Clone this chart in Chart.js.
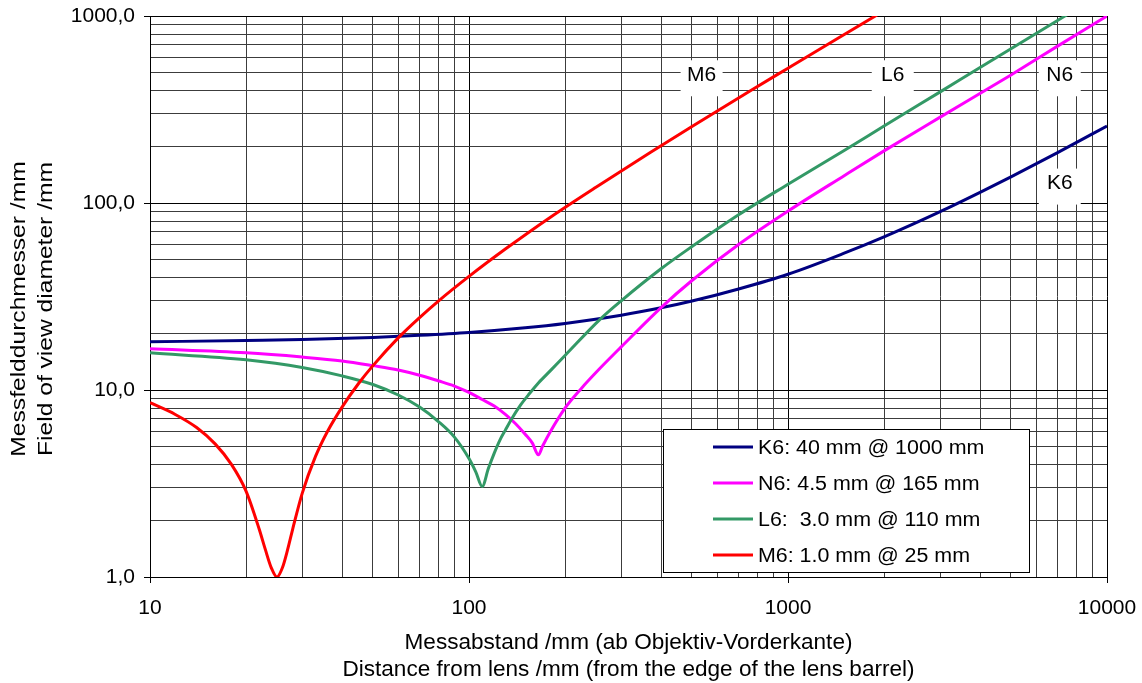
<!DOCTYPE html>
<html>
<head>
<meta charset="utf-8">
<script src="https://cdn.jsdelivr.net/npm/chart.js@4.4.1/dist/chart.umd.min.js"></script>
<style>
  html, body { margin: 0; padding: 0; background: #fff; }
  canvas { display: block; }
</style>
</head>
<body>
<canvas id="fovChart" width="1142" height="683"></canvas>
<script>
// Messabstand (mm) -> Messfelddurchmesser (mm)
const k6X = [10, 20, 30, 50, 70, 100, 150, 200, 300, 400, 500, 700, 1000, 1500, 2000, 3000, 4000, 5000, 7000, 10000];
const k6Y = [18.1, 18.4, 18.6, 19.1, 19.6, 20.3, 21.5, 22.7, 25.1, 27.5, 29.9, 34.7, 41.6, 53.9, 65.9, 89.9, 114, 138, 186, 258];

const n6X = [10, 20, 30, 40, 50, 60, 70, 80, 90, 100, 110, 120, 130, 140, 150, 158, 165, 170, 180, 200, 225, 250, 300, 400, 500, 700, 1000, 1500, 2000, 3000, 5000, 7000, 10000];
const n6Y = [16.6, 15.8, 15.0, 14.3, 13.5, 12.8, 12.0, 11.2, 10.5, 9.7, 8.9, 8.2, 7.4, 6.6, 5.8, 5.2, 4.5, 5.0, 6.0, 8.0, 10.2, 12.4, 17.0, 27.6, 38.5, 60, 90.5, 140, 190, 288, 484, 690, 1000];

const l6X = [10, 20, 30, 40, 50, 60, 70, 80, 90, 100, 105, 110, 115, 120, 125, 130, 136, 145, 155, 165, 180, 200, 257, 300, 400, 500, 700, 1000, 1500, 2000, 3000, 4000, 5000, 7400, 8000];
const l6Y = [15.8, 14.5, 13.2, 11.9, 10.7, 9.4, 8.1, 6.8, 5.6, 4.3, 3.65, 3.05, 3.8, 4.6, 5.4, 6.1, 7.0, 8.3, 9.6, 10.9, 12.7, 15.3, 23.8, 30.0, 44.5, 58.5, 86.5, 126, 191, 258, 393, 530, 668, 1002, 1086];

const m6X = [10, 12, 14, 16, 18, 20, 22, 23, 24, 25, 26, 27, 28, 30, 33, 36, 40, 45, 50, 60, 70, 80, 100, 130, 180, 250, 370, 500, 760, 1000, 1400, 1900, 2100];
const m6Y = [8.55, 7.4, 6.3, 5.15, 4.0, 2.88, 1.8, 1.4, 1.12, 1.0, 1.12, 1.4, 1.8, 2.8, 4.4, 6.0, 8.1, 10.8, 13.5, 19.0, 24.4, 29.8, 40.5, 56.7, 84, 121.5, 186, 256.5, 397, 526, 742, 1012, 1120];

const seriesNames = ['K6: 40 mm @ 1000 mm', 'N6: 4.5 mm @ 165 mm', 'L6:  3.0 mm @ 110 mm', 'M6: 1.0 mm @ 25 mm'];
const seriesColors = ['#000080', '#ff00ff', '#339966', '#ff0000'];

// Achsen
const xTickValues = [10, 100, 1000, 10000];
const xTickLabels = ['10', '100', '1000', '10000'];
const yTickValues = [1, 10, 100, 1000];
const yTickLabels = ['1,0', '10,0', '100,0', '1000,0'];
const gridSteps = [1, 2, 3, 4, 5, 6, 7, 8, 9];

const xTitleLines = ['Messabstand /mm (ab Objektiv-Vorderkante)', 'Distance from lens /mm (from the edge of the lens barrel)'];
const yTitleLines = ['Messfelddurchmesser /mm', 'Field of view diameter /mm'];

// Beschriftung der Kurven im Diagramm
const tagNames = ['M6', 'L6', 'N6', 'K6'];
const tagX = [536, 2130, 7110, 7110];
const tagY = [482, 482, 482, 127];

const fontFamily = "'Liberation Sans', Arial, sans-serif";

// Gitterlinien 1..9 pro Dekade
function gridValues(decades) {
    const vals = [];
    decades.slice(0, -1).forEach(d => gridSteps.forEach(s => vals.push(d * s)));
    vals.push(decades[decades.length - 1]);
    return vals;
}

const toPoints = (xs, ys) => xs.map((x, i) => ({ x: x, y: ys[i] }));

// Text gestreckt zeichnen (Excel-Optik)
function stretchText(ctx, text, x, y, sx) {
    ctx.save();
    ctx.translate(x, y);
    ctx.scale(sx, 1);
    ctx.fillText(text, 0, 0);
    ctx.restore();
}

const overlayPlugin = {
    id: 'overlay',
    afterDraw(chart) {
        const { ctx, chartArea: area, scales: { x, y } } = chart;
        ctx.save();

        // Kurvennamen mit weissem Hintergrund
        ctx.font = '21px ' + fontFamily;
        ctx.textAlign = 'center';
        ctx.textBaseline = 'middle';
        tagNames.forEach((name, i) => {
            const px = x.getPixelForValue(tagX[i]);
            const py = y.getPixelForValue(tagY[i]);
            ctx.fillStyle = '#fff';
            ctx.fillRect(px - 21, py - 15, 42, 36);
            ctx.fillStyle = '#000';
            ctx.fillText(name, px, py);
        });

        // Legende
        const lgLeft = 663, lgTop = 429, lgW = 367, lgH = 144;
        ctx.fillStyle = '#fff';
        ctx.fillRect(lgLeft, lgTop, lgW, lgH);
        ctx.strokeStyle = '#000';
        ctx.lineWidth = 1;
        ctx.strokeRect(lgLeft + 0.5, lgTop + 0.5, lgW - 1, lgH - 1);
        ctx.font = '20px ' + fontFamily;
        ctx.textAlign = 'left';
        ctx.textBaseline = 'middle';
        seriesNames.forEach((name, i) => {
            const rowY = lgTop + 19 + i * 36;
            ctx.strokeStyle = seriesColors[i];
            ctx.lineWidth = 3;
            ctx.beginPath();
            ctx.moveTo(lgLeft + 50, rowY - 1);
            ctx.lineTo(lgLeft + 90, rowY - 1);
            ctx.stroke();
            ctx.fillStyle = '#000';
            stretchText(ctx, name, lgLeft + 95, rowY, 1.07);
        });

        // Achsentitel
        ctx.fillStyle = '#000';
        ctx.textAlign = 'center';
        ctx.textBaseline = 'alphabetic';
        ctx.font = '21.5px ' + fontFamily;
        const cx = (area.left + area.right) / 2;
        xTitleLines.forEach((line, i) => stretchText(ctx, line, cx, 649 + i * 27, 1.05));

        ctx.font = '20px ' + fontFamily;
        yTitleLines.forEach((line, i) => {
            ctx.save();
            ctx.translate(25 + i * 26.5, 309);
            ctx.rotate(-Math.PI / 2);
            ctx.scale(1.23, 1);
            ctx.fillText(line, 0, 0);
            ctx.restore();
        });
        ctx.restore();
    }
};

function axisOptions(decades, fitFn) {
    const grid = gridValues(decades);
    return {
        type: 'logarithmic',
        min: decades[0],
        max: decades[decades.length - 1],
        afterBuildTicks: scale => {
            scale.ticks = grid.map(v => ({ value: v, major: decades.includes(v) }));
        },
        afterFit: fitFn,
        grid: {
            color: c => decades.includes(c.tick.value) ? '#000' : '#3c3c3c',
            lineWidth: 1,
            drawTicks: true,
            tickLength: 6,
            tickColor: c => decades.includes(c.tick.value) ? '#000' : 'rgba(0,0,0,0)'
        },
        border: { color: '#000', width: 1 },
        title: { display: false }
    };
}

const xAxis = axisOptions(xTickValues, scale => {
    scale.height = 106;
    scale.paddingLeft = 0;
    scale.paddingRight = 0;
});
xAxis.ticks = {
    autoSkip: false,
    maxRotation: 0,
    padding: 13,
    color: '#000',
    font: { family: fontFamily, size: 21 },
    callback: value => {
        const i = xTickValues.indexOf(value);
        return i >= 0 ? xTickLabels[i] : '';
    }
};

const yAxis = axisOptions(yTickValues, scale => {
    scale.width = 150;
    scale.paddingTop = 0;
    scale.paddingBottom = 0;
});
yAxis.ticks = {
    autoSkip: false,
    padding: 9,
    color: '#000',
    font: { family: fontFamily, size: 21 },
    callback: value => {
        const i = yTickValues.indexOf(value);
        return i >= 0 ? yTickLabels[i] : '';
    }
};

const seriesPoints = [toPoints(k6X, k6Y), toPoints(n6X, n6Y), toPoints(l6X, l6Y), toPoints(m6X, m6Y)];

new Chart(document.getElementById('fovChart'), {
    type: 'line',
    data: {
        datasets: seriesPoints.map((pts, i) => ({
            label: seriesNames[i],
            data: pts,
            borderColor: seriesColors[i],
            borderWidth: 3,
            pointRadius: 0,
            fill: false,
            cubicInterpolationMode: 'monotone',
            order: 3 - i
        }))
    },
    options: {
        responsive: false,
        animation: false,
        devicePixelRatio: 1,
        layout: { padding: { top: 16, right: 35, left: 0, bottom: 0 } },
        scales: { x: xAxis, y: yAxis },
        plugins: {
            legend: { display: false },
            tooltip: { enabled: false }
        }
    },
    plugins: [overlayPlugin]
});
</script>
</body>
</html>
